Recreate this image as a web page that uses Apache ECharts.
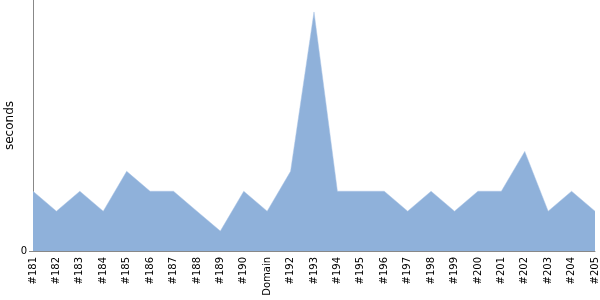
<!DOCTYPE html>
<html><head><meta charset="utf-8">
<script src="https://cdn.jsdelivr.net/npm/echarts@6/dist/echarts.min.js"></script>
<style>html,body{margin:0;padding:0;background:#fff}#c{width:600px;height:300px}</style>
</head><body><div id="c"></div>
<script>
const categories = ['#181','#182','#183','#184','#185','#186','#187','#188','#189','#190','Domain','#192','#193','#194','#195','#196','#197','#198','#199','#200','#201','#202','#203','#204','#205'];
const seconds = [3,2,3,2,4,3,3,2,1,3,2,4,12,3,3,3,2,3,2,3,3,5,2,3,2];
const yTicks = [0];
const chart = echarts.init(document.getElementById('c'));
chart.setOption({
  animation: false,
  grid: {left: 33, right: 5, top: 0, bottom: 49, containLabel: false, outerBoundsMode: 'none'},
  xAxis: {
    type: 'category', data: categories, boundaryGap: false,
    axisLine: {lineStyle: {color: '#888', width: 1}},
    axisTick: {show: false},
    axisLabel: {rotate: 90, interval: 0, color: '#000', fontSize: 10, fontFamily: 'DejaVu Sans', margin: 6}
  },
  yAxis: {
    type: 'value', min: 0, max: 12.6,
    name: 'seconds', nameLocation: 'middle', nameGap: 17, nameMoveOverlap: false,
    nameTextStyle: {color: '#000', fontSize: 12, fontFamily: 'DejaVu Sans'},
    axisLine: {show: true, lineStyle: {color: '#888', width: 1}},
    axisTick: {show: true, length: 4, lineStyle: {color: '#888'}, customValues: yTicks},
    splitLine: {show: false},
    axisLabel: {color: '#000', fontSize: 10, fontFamily: 'DejaVu Sans', margin: 6, customValues: yTicks}
  },
  series: [{
    type: 'line', data: seconds, symbol: 'none',
    lineStyle: {width: 0.5, color: '#a9c3e4'},
    areaStyle: {color: '#8fb1da', opacity: 1}
  }]
});
</script></body></html>
